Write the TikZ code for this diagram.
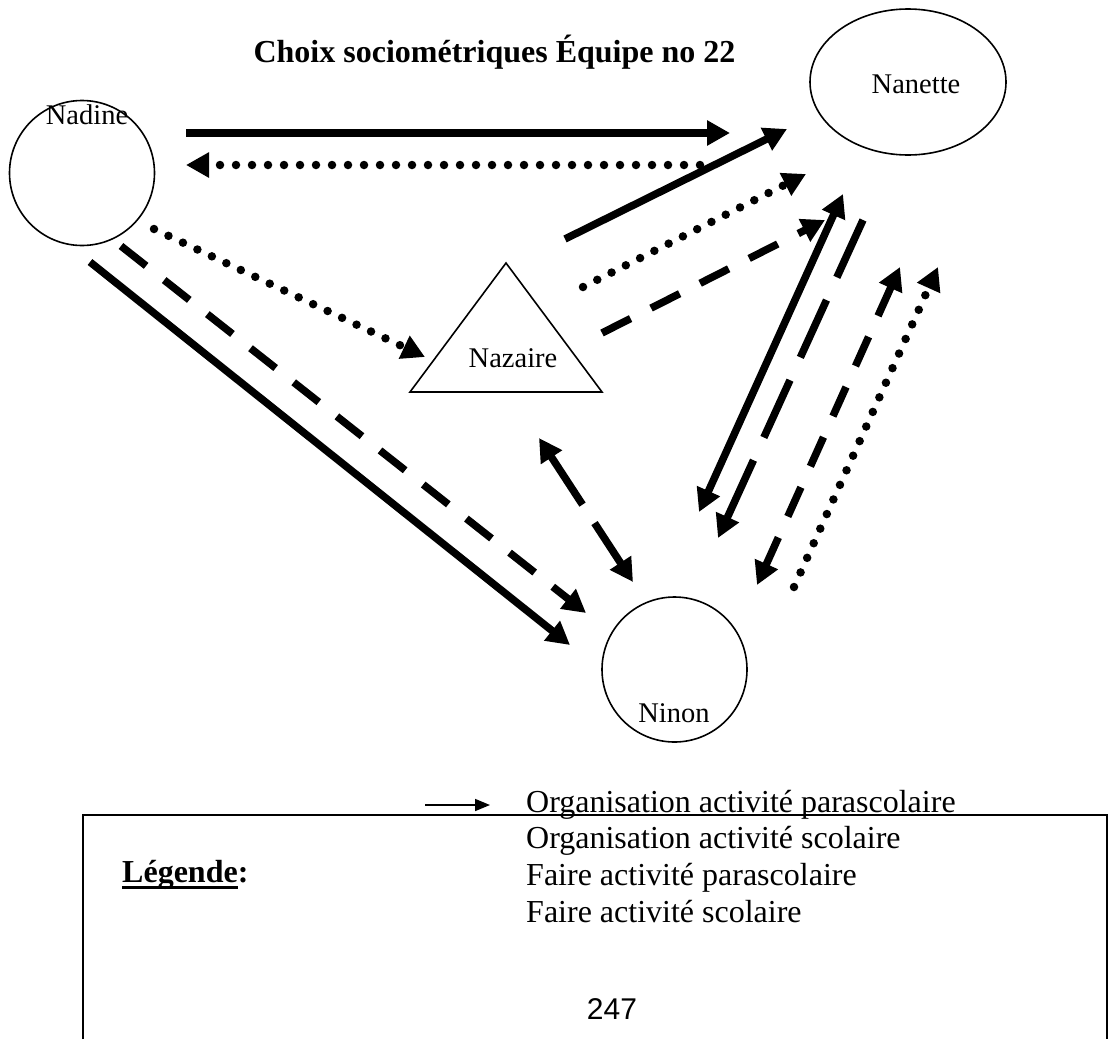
\documentclass[tikz,border=0pt]{standalone}
\usepackage{fontspec}
\setmainfont{Liberation Serif}
\newfontfamily\numfont{Liberation Sans}
\usetikzlibrary{arrows.meta,shapes.geometric}
\tikzset{
  lbl/.style={font=\fontsize{28.5}{34}\selectfont, inner sep=0pt},
  legtxt/.style={font=\fontsize{32}{37}\selectfont, inner sep=0pt, anchor=base west},
  nodeline/.style={line width=1.6pt},
  plain/.style={line width=7.5pt},
  shortdash/.style={line width=7.5pt, dash pattern=on 32pt off 23pt},
  longdash/.style={line width=7.5pt, dash pattern=on 63pt off 25pt},
  dotline/.style={line width=8.5pt, line cap=round, dash pattern=on 0pt off 16pt},
  headend/.style={-{Triangle[length=23pt,width=24pt]}},
  headboth/.style={{Triangle[length=23pt,width=24pt]}-{Triangle[length=23pt,width=24pt]}}
}
\begin{document}
\begin{tikzpicture}[x=1pt,y=-1pt]
\useasboundingbox (0,0) rectangle (1110,1039);

% title
\node[font=\fontsize{32}{38}\selectfont\bfseries, inner sep=0pt, anchor=base] (title) at (494.5,62) {Choix sociométriques Équipe no 22};

% persons
\node[nodeline, draw, circle, minimum size=145pt, inner sep=0pt] (nadine) at (82,173) {};
\node[lbl, anchor=base] (nadinelbl) at (87,124) {Nadine};

\node[nodeline, draw, ellipse, minimum width=196pt, minimum height=146pt, inner sep=0pt] (nanette) at (908,82) {};
\node[lbl, anchor=base] (nanettelbl) at (916,93) {Nanette};

\coordinate (tria) at (506,263);
\coordinate (trib) at (410,392);
\coordinate (tric) at (602,392);
\draw[nodeline, line join=miter] (tria) -- (trib) -- (tric) -- cycle;
\node[lbl, anchor=base] (nazairelbl) at (513,367) {Nazaire};

\node[nodeline, draw, circle, minimum size=145pt, inner sep=0pt] (ninon) at (674.5,669.5) {};
\node[lbl, anchor=base] (ninonlbl) at (674,722) {Ninon};

% end points of connectors
\coordinate (a1s) at (186,133);  \coordinate (a1e) at (730,133);
\coordinate (a2s) at (700,165);  \coordinate (a2e) at (186,165);
\coordinate (a3s) at (154,229);  \coordinate (a3e) at (425,357);
\coordinate (a4s) at (121,246);  \coordinate (a4e) at (586,613);
\coordinate (a5s) at (90,262);   \coordinate (a5e) at (570,645);
\coordinate (b1s) at (565,239);  \coordinate (b1e) at (787,129);
\coordinate (b2s) at (583,287);  \coordinate (b2e) at (806,174);
\coordinate (b3s) at (602,333);  \coordinate (b3e) at (825,220);
\coordinate (c1s) at (539,438);  \coordinate (c1e) at (633,582);
\coordinate (d1s) at (843,194);  \coordinate (d1e) at (699,512);
\coordinate (d2s) at (863,220);  \coordinate (d2e) at (718,538);
\coordinate (d3s) at (900,267);  \coordinate (d3e) at (757,585);
\coordinate (d4s) at (794,587);  \coordinate (d4e) at (938,267);

% Nadine <-> Nanette
\draw[plain, headend] (a1s) -- (a1e);
\draw[dotline, headend] (a2s) -- (a2e);
% Nadine -> Nazaire, Ninon
\draw[dotline, headend] (a3s) -- (a3e);
\draw[shortdash, headend] (a4s) -- (a4e);
\draw[plain, headend] (a5s) -- (a5e);
% Nazaire -> Nanette
\draw[plain, headend] (b1s) -- (b1e);
\draw[dotline, headend] (b2s) -- (b2e);
\draw[shortdash, headend] (b3s) -- (b3e);
% Nazaire <-> Ninon
\draw[line width=7.5pt, dash pattern=on 58pt off 22pt, headboth] (c1s) -- (c1e);
% Nanette <-> Ninon
\draw[plain, headboth] (d1s) -- (d1e);
\draw[longdash, headend] (d2s) -- (d2e);
\draw[shortdash, headboth] (d3s) -- (d3e);
\draw[dotline, headend] (d4s) -- (d4e);

% legend
\coordinate (lg1) at (83,1039);
\coordinate (lg2) at (83,815);
\coordinate (lg3) at (1107,815);
\coordinate (lg4) at (1107,1039);
\draw[line width=2.5pt] (lg1) -- (lg2) -- (lg3) -- (lg4);
\coordinate (la) at (425,805);
\coordinate (lb) at (490,805);
\draw[line width=1.6pt, -{Triangle[length=15pt,width=12pt]}] (la) -- (lb);
\node[legtxt] (l1) at (526,812) {Organisation activité parascolaire};
\node[legtxt] (l2) at (526,848.7) {Organisation activité scolaire};
\node[legtxt] (l3) at (526,885.3) {Faire activité parascolaire};
\node[legtxt] (l4) at (526,922) {Faire activité scolaire};
\node[font=\fontsize{32}{37}\selectfont\bfseries, inner sep=0pt, anchor=base west] (legende) at (122,882) {Légende:};
\draw[line width=3pt] (122,887.5) -- (238,887.5);
\node[font=\numfont\fontsize{30}{36}\selectfont, inner sep=0pt, anchor=base] (page) at (612,1019) {247};
\end{tikzpicture}
\end{document}
